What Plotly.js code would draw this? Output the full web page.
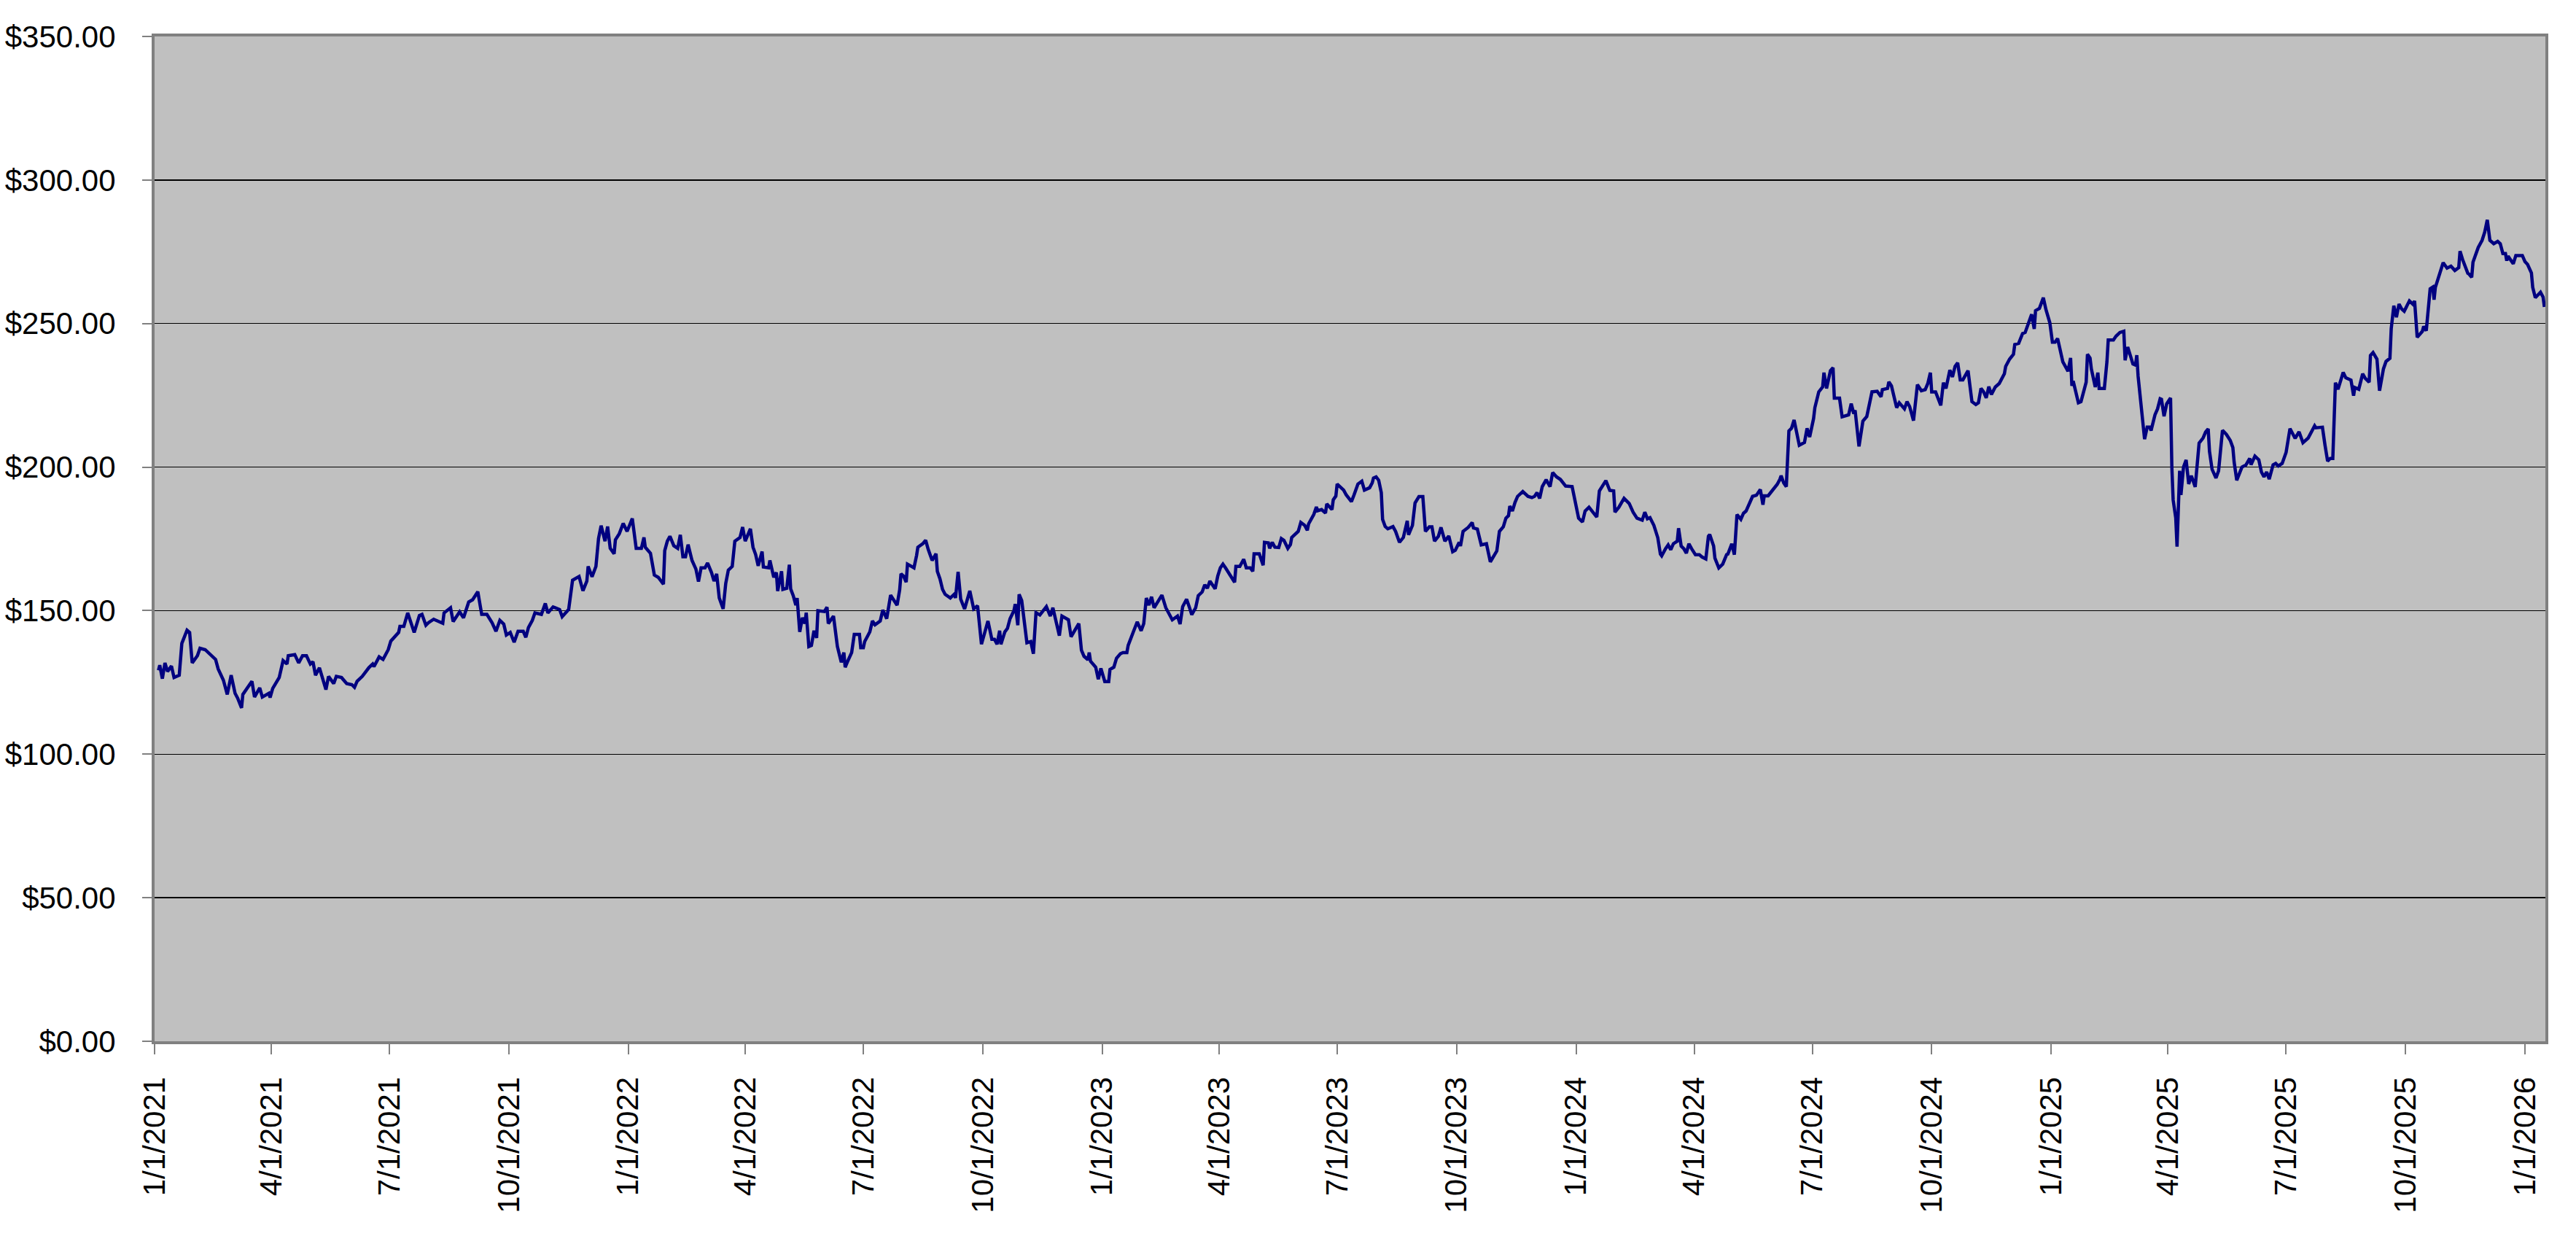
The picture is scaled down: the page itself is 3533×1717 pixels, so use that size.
<!DOCTYPE html>
<html>
<head>
<meta charset="utf-8">
<script src="https://cdn.plot.ly/plotly-3.0.1.min.js"></script>
<style>
  html, body { margin: 0; padding: 0; background: #ffffff; }
  #chart { width: 3533px; height: 1717px; }
</style>
</head>
<body>
<div id="chart"></div>
<script>
"use strict";

// --- price series (one pair of arrays per year) ---
const dates2021 = [
  '2021-01-04','2021-01-05','2021-01-07','2021-01-09','2021-01-11','2021-01-14','2021-01-16','2021-01-20','2021-01-22','2021-01-26','2021-01-28','2021-01-30',
  '2021-02-03','2021-02-05','2021-02-09','2021-02-12','2021-02-17','2021-02-19','2021-02-23','2021-02-26',
  '2021-03-01','2021-03-04','2021-03-06','2021-03-09','2021-03-10','2021-03-17','2021-03-19','2021-03-23','2021-03-25','2021-03-30','2021-03-31',
  '2021-04-02','2021-04-07','2021-04-10','2021-04-13','2021-04-14','2021-04-19','2021-04-22','2021-04-25','2021-04-28',
  '2021-05-01','2021-05-03','2021-05-05','2021-05-08','2021-05-13','2021-05-15','2021-05-19','2021-05-21','2021-05-25','2021-05-29',
  '2021-06-02','2021-06-04','2021-06-06','2021-06-10','2021-06-15','2021-06-18','2021-06-19','2021-06-23','2021-06-26','2021-06-30',
  '2021-07-02','2021-07-08','2021-07-09','2021-07-12','2021-07-15','2021-07-20','2021-07-22','2021-07-24','2021-07-26','2021-07-29','2021-07-31',
  '2021-08-04','2021-08-11','2021-08-12','2021-08-17','2021-08-19','2021-08-24','2021-08-27','2021-08-31',
  '2021-09-03','2021-09-07','2021-09-10','2021-09-14','2021-09-18','2021-09-21','2021-09-24','2021-09-27','2021-09-29',
  '2021-10-02','2021-10-05','2021-10-08','2021-10-12','2021-10-14','2021-10-16','2021-10-19','2021-10-21','2021-10-26','2021-10-29','2021-10-31',
  '2021-11-04','2021-11-09','2021-11-11','2021-11-16','2021-11-19','2021-11-24','2021-11-27','2021-11-30',
  '2021-12-01','2021-12-04','2021-12-07','2021-12-09','2021-12-11','2021-12-14','2021-12-16','2021-12-18','2021-12-21','2021-12-22','2021-12-25','2021-12-28','2021-12-31'
];
const prices2021 = [
  129.2,131.0,126.3,131.8,128.8,130.7,126.7,127.5,138.6,143.2,142.4,131.8,
  134.3,136.9,136.4,135.2,133.0,129.7,125.8,120.8,
  127.5,121.2,119.5,116.1,120.8,125.4,119.9,123.1,119.9,121.2,119.7,
  122.9,126.7,132.6,131.4,134.3,134.7,131.8,134.3,134.3,
  131.4,132.2,127.5,130.1,122.5,127.1,124.6,127.1,126.7,124.6,
  124.2,123.3,125.4,127.1,130.1,131.4,130.5,133.9,133.0,136.4,
  139.4,142.4,144.5,144.5,149.2,142.4,145.8,148.3,148.7,144.9,145.8,
  147.0,145.6,149.2,151.0,146.2,149.6,147.5,153.0,
  153.8,156.6,148.7,148.7,145.8,142.8,146.6,145.3,141.5,
  142.4,139.0,142.8,142.8,140.7,144.1,146.6,149.2,148.7,152.5,149.2,
  151.3,150.4,147.9,150.4,160.6,161.9,156.9,160.3,
  165.4,161.8,165.4,175.1,179.6,174.2,179.3,171.7,169.8,174.7,176.8,180.4,177.6
];

const dates2022 = [
  '2022-01-04','2022-01-07','2022-01-11','2022-01-13','2022-01-14','2022-01-18','2022-01-21','2022-01-24','2022-01-28','2022-01-29','2022-01-31',
  '2022-02-02','2022-02-05','2022-02-08','2022-02-10','2022-02-12','2022-02-14','2022-02-16','2022-02-19','2022-02-22','2022-02-24','2022-02-26',
  '2022-03-01','2022-03-03','2022-03-06','2022-03-08','2022-03-10','2022-03-12','2022-03-15','2022-03-17','2022-03-19','2022-03-22','2022-03-24','2022-03-28','2022-03-30',
  '2022-04-01','2022-04-05','2022-04-07','2022-04-09','2022-04-11','2022-04-14','2022-04-15','2022-04-19','2022-04-20','2022-04-23','2022-04-25','2022-04-26','2022-04-29','2022-04-30',
  '2022-05-03','2022-05-05','2022-05-06','2022-05-08','2022-05-10','2022-05-11','2022-05-13','2022-05-15','2022-05-17','2022-05-18','2022-05-20','2022-05-22','2022-05-24','2022-05-26','2022-05-27',
  '2022-06-01','2022-06-03','2022-06-04','2022-06-08','2022-06-11','2022-06-14','2022-06-16','2022-06-17','2022-06-19','2022-06-22','2022-06-24','2022-06-28','2022-06-29',
  '2022-07-01','2022-07-02','2022-07-06','2022-07-08','2022-07-10','2022-07-14','2022-07-16','2022-07-19','2022-07-22','2022-07-24','2022-07-27','2022-07-29','2022-07-30',
  '2022-08-01','2022-08-03','2022-08-04','2022-08-09','2022-08-11','2022-08-12','2022-08-16','2022-08-18','2022-08-20','2022-08-23','2022-08-26','2022-08-27','2022-08-29','2022-08-31',
  '2022-09-02','2022-09-06','2022-09-09','2022-09-10','2022-09-12','2022-09-14','2022-09-17','2022-09-21','2022-09-24','2022-09-27','2022-09-30',
  '2022-10-03','2022-10-05','2022-10-08','2022-10-10','2022-10-12','2022-10-14','2022-10-15','2022-10-18','2022-10-20','2022-10-22','2022-10-25','2022-10-26','2022-10-28','2022-10-29','2022-10-31',
  '2022-11-04','2022-11-07','2022-11-09','2022-11-11','2022-11-14','2022-11-19','2022-11-22','2022-11-24','2022-11-29',
  '2022-12-01','2022-12-06','2022-12-08','2022-12-11','2022-12-14','2022-12-16','2022-12-18','2022-12-21','2022-12-22','2022-12-23','2022-12-27','2022-12-29','2022-12-31'
];
const prices2022 = [
  182.1,171.7,171.7,175.5,172.1,170.0,162.4,161.6,159.2,170.9,174.2,
  175.9,172.6,171.7,176.4,168.8,168.8,173.0,167.5,164.5,160.1,164.9,
  164.9,166.6,163.3,160.3,162.8,154.4,150.6,159.5,164.1,165.4,174.2,175.5,179.1,
  174.2,178.5,172.1,169.6,165.6,170.6,165.2,164.9,167.5,161.6,163.3,156.8,163.7,157.4,
  157.8,166.0,157.6,155.2,151.9,154.4,142.6,147.5,145.5,149.3,137.5,137.9,143.0,140.5,150.0,
  149.7,151.2,145.5,148.1,137.5,132.0,135.4,130.3,132.4,135.4,141.7,141.7,137.1,
  137.1,139.2,142.6,146.4,145.1,146.4,150.2,147.2,155.4,154.0,151.9,157.3,162.8,
  162.0,159.9,166.2,164.9,169.2,172.1,173.4,174.5,171.3,167.5,169.8,163.7,161.1,157.4,
  155.7,154.4,155.7,154.4,163.5,154.0,150.6,156.9,150.6,151.7,138.3,
  142.6,146.4,140.0,140.0,138.3,143.0,138.3,142.6,143.8,147.2,150.0,152.3,144.9,155.7,153.5,
  138.8,139.2,135.0,149.3,148.5,151.4,148.1,151.0,141.3,
  148.1,146.8,140.9,143.0,145.5,136.2,134.1,132.9,135.4,132.4,130.3,126.1,129.9
];

const dates2023 = [
  '2023-01-03','2023-01-06','2023-01-07','2023-01-10','2023-01-12','2023-01-15','2023-01-17','2023-01-20','2023-01-21','2023-01-23','2023-01-25','2023-01-28','2023-01-31',
  '2023-02-02','2023-02-04','2023-02-06','2023-02-08','2023-02-10','2023-02-14','2023-02-16','2023-02-19','2023-02-22','2023-02-24','2023-02-28',
  '2023-03-02','2023-03-04','2023-03-07','2023-03-09','2023-03-11','2023-03-14','2023-03-16','2023-03-19','2023-03-21','2023-03-23','2023-03-25','2023-03-29','2023-03-31',
  '2023-04-02','2023-04-04','2023-04-06','2023-04-10','2023-04-13','2023-04-14','2023-04-17','2023-04-20','2023-04-22','2023-04-25','2023-04-27','2023-04-28',
  '2023-05-02','2023-05-05','2023-05-06','2023-05-09','2023-05-10','2023-05-12','2023-05-14','2023-05-17','2023-05-19','2023-05-21','2023-05-24','2023-05-26','2023-05-27',
  '2023-06-01','2023-06-03','2023-06-06','2023-06-08','2023-06-09','2023-06-13','2023-06-15','2023-06-16','2023-06-19','2023-06-22','2023-06-23','2023-06-27','2023-06-28','2023-06-30',
  '2023-07-01','2023-07-06','2023-07-08','2023-07-12','2023-07-14','2023-07-17','2023-07-20','2023-07-22','2023-07-26','2023-07-28','2023-07-29','2023-07-31',
  '2023-08-02','2023-08-04','2023-08-05','2023-08-07','2023-08-09','2023-08-13','2023-08-15','2023-08-18','2023-08-21','2023-08-24','2023-08-25','2023-08-28','2023-08-30',
  '2023-09-02','2023-09-05','2023-09-07','2023-09-10','2023-09-12','2023-09-14','2023-09-17','2023-09-19','2023-09-22','2023-09-25','2023-09-28','2023-09-30',
  '2023-10-03','2023-10-04','2023-10-06','2023-10-10','2023-10-13','2023-10-14','2023-10-17','2023-10-20','2023-10-24','2023-10-27',
  '2023-11-01','2023-11-03','2023-11-06','2023-11-08','2023-11-10','2023-11-11','2023-11-13','2023-11-15','2023-11-17','2023-11-21','2023-11-25','2023-11-28','2023-11-30',
  '2023-12-02','2023-12-04','2023-12-06','2023-12-09','2023-12-12','2023-12-14','2023-12-17','2023-12-20','2023-12-24','2023-12-29'
];
const prices2023 = [
  125.3,125.3,129.5,130.3,133.4,135.0,135.4,135.4,137.9,140.5,142.6,146.1,143.0,
  145.5,154.4,151.9,154.8,151.0,154.0,155.4,151.0,148.5,146.8,148.1,
  145.3,151.4,154.0,151.4,148.6,151.0,155.2,156.5,159.0,157.8,160.3,157.6,162.0,
  164.9,166.2,164.9,162.0,159.9,165.4,165.4,167.9,164.9,164.9,163.7,169.8,
  169.8,165.8,173.8,173.6,171.7,173.8,172.1,172.0,175.1,174.5,171.7,173.0,175.5,
  177.6,180.7,179.7,178.0,180.2,183.5,186.1,184.8,185.2,184.0,187.2,185.2,188.6,189.9,
  194.1,192.0,190.3,188.0,190.3,194.1,195.1,192.0,192.8,194.5,196.2,196.6,
  195.4,191.1,181.8,179.3,178.5,179.3,177.6,173.8,175.5,181.3,176.4,179.7,187.5,
  189.7,189.7,177.6,179.2,179.2,174.2,175.9,179.0,174.2,176.0,170.5,171.0,
  173.8,172.5,177.6,179.0,180.7,178.8,178.4,172.9,173.3,167.0,
  170.8,177.6,179.2,182.2,183.1,186.4,184.7,187.7,189.8,191.5,189.8,189.4,189.8,
  191.1,189.1,193.2,195.6,193.2,198.1,196.6,195.7,193.4,193.2
];

const dates2024 = [
  '2024-01-03','2024-01-06','2024-01-08','2024-01-11','2024-01-14','2024-01-17','2024-01-19','2024-01-24','2024-01-27','2024-01-30','2024-01-31',
  '2024-02-03','2024-02-07','2024-02-09','2024-02-11','2024-02-14','2024-02-17','2024-02-21','2024-02-23','2024-02-25','2024-02-27',
  '2024-03-01','2024-03-04','2024-03-06','2024-03-07','2024-03-10','2024-03-12','2024-03-14','2024-03-16','2024-03-19','2024-03-20','2024-03-22','2024-03-24','2024-03-26','2024-03-28','2024-03-30',
  '2024-04-02','2024-04-05','2024-04-07','2024-04-10','2024-04-12','2024-04-13','2024-04-16','2024-04-17','2024-04-20','2024-04-23','2024-04-26','2024-04-27','2024-04-30',
  '2024-05-02','2024-05-04','2024-05-07','2024-05-09','2024-05-11','2024-05-15','2024-05-16','2024-05-19','2024-05-22','2024-05-24','2024-05-25','2024-05-28',
  '2024-06-01','2024-06-04','2024-06-06','2024-06-07','2024-06-09','2024-06-11','2024-06-13','2024-06-15','2024-06-17','2024-06-21','2024-06-25','2024-06-27','2024-06-29',
  '2024-07-02','2024-07-03','2024-07-06','2024-07-09','2024-07-10','2024-07-12','2024-07-15','2024-07-17','2024-07-18','2024-07-22','2024-07-24','2024-07-29','2024-07-31',
  '2024-08-02','2024-08-03','2024-08-06','2024-08-09','2024-08-12','2024-08-14','2024-08-16','2024-08-20','2024-08-23','2024-08-24','2024-08-28','2024-08-29','2024-08-31',
  '2024-09-04','2024-09-06','2024-09-10','2024-09-12','2024-09-14','2024-09-17','2024-09-20','2024-09-23','2024-09-26','2024-09-28','2024-09-30',
  '2024-10-01','2024-10-04','2024-10-08','2024-10-10','2024-10-12','2024-10-15','2024-10-17','2024-10-19','2024-10-21','2024-10-23','2024-10-25','2024-10-29',
  '2024-11-01','2024-11-04','2024-11-06','2024-11-08','2024-11-10','2024-11-12','2024-11-14','2024-11-16','2024-11-19','2024-11-22','2024-11-26','2024-11-27','2024-11-30',
  '2024-12-03','2024-12-04','2024-12-07','2024-12-10','2024-12-12','2024-12-15','2024-12-17','2024-12-19','2024-12-20','2024-12-23','2024-12-25','2024-12-26','2024-12-28','2024-12-31'
];
const prices2024 = [
  182.2,180.9,184.7,186.0,184.3,182.6,191.7,195.3,191.9,191.7,184.3,
  186.0,189.1,188.3,187.3,184.3,182.2,181.5,184.3,182.0,182.4,
  179.7,175.4,169.7,169.1,171.6,172.9,171.2,173.3,174.2,178.7,172.5,171.6,170.0,173.3,171.6,
  169.5,169.5,168.7,168.0,175.9,176.5,172.5,168.3,164.9,166.2,169.5,169.7,173.3,
  169.5,183.5,181.8,183.9,184.7,188.3,189.8,190.2,192.2,186.9,190.0,190.0,
  192.2,194.0,195.7,197.0,194.5,193.2,212.6,213.5,216.4,207.6,208.6,213.5,210.5,
  216.9,220.7,226.2,227.9,232.9,227.4,233.6,234.6,224.0,224.0,217.5,218.2,222.1,
  218.6,219.8,207.2,216.0,217.6,221.5,226.2,226.4,224.5,227.0,227.4,229.7,228.3,
  220.7,222.4,220.3,222.8,221.1,216.2,228.7,226.6,227.0,229.1,232.9,
  226.2,226.2,221.5,229.4,227.4,233.8,231.4,235.1,236.3,230.4,230.4,233.6,
  222.8,221.8,222.4,227.4,226.2,224.1,228.0,225.3,227.9,229.1,232.5,235.1,237.6,
  239.3,242.7,243.1,246.5,246.9,250.3,253.2,248.1,254.5,255.3,258.3,259.0,254.9,250.3
];

const dates2025 = [
  '2025-01-02','2025-01-04','2025-01-06','2025-01-10','2025-01-14','2025-01-16','2025-01-17','2025-01-18','2025-01-22','2025-01-24','2025-01-28','2025-01-29','2025-01-31',
  '2025-02-01','2025-02-04','2025-02-06','2025-02-07','2025-02-11','2025-02-13','2025-02-14','2025-02-18','2025-02-20','2025-02-23','2025-02-26','2025-02-27',
  '2025-03-01','2025-03-03','2025-03-05','2025-03-07','2025-03-08','2025-03-09','2025-03-12','2025-03-14','2025-03-16','2025-03-18','2025-03-19','2025-03-22','2025-03-24','2025-03-26','2025-03-27','2025-03-29','2025-03-31',
  '2025-04-03','2025-04-04','2025-04-05','2025-04-07','2025-04-08','2025-04-10','2025-04-11','2025-04-13','2025-04-15','2025-04-17','2025-04-19','2025-04-22','2025-04-25','2025-04-28','2025-04-30',
  '2025-05-02','2025-05-03','2025-05-05','2025-05-08','2025-05-10','2025-05-13','2025-05-16','2025-05-19','2025-05-21','2025-05-22','2025-05-24','2025-05-28','2025-05-31',
  '2025-06-03','2025-06-04','2025-06-07','2025-06-10','2025-06-12','2025-06-14','2025-06-16','2025-06-18','2025-06-21','2025-06-23','2025-06-25','2025-06-28',
  '2025-07-01','2025-07-04','2025-07-08','2025-07-11','2025-07-14','2025-07-18','2025-07-20','2025-07-23','2025-07-24','2025-07-29','2025-07-31',
  '2025-08-02','2025-08-04','2025-08-06','2025-08-08','2025-08-10','2025-08-14','2025-08-16','2025-08-20','2025-08-22','2025-08-23','2025-08-26','2025-08-29','2025-08-31',
  '2025-09-03','2025-09-04','2025-09-06','2025-09-09','2025-09-11','2025-09-14','2025-09-16','2025-09-19','2025-09-20','2025-09-22','2025-09-24','2025-09-26','2025-09-28','2025-09-30',
  '2025-10-04','2025-10-07','2025-10-08','2025-10-10','2025-10-14','2025-10-15','2025-10-17','2025-10-20','2025-10-22','2025-10-23','2025-10-24','2025-10-28','2025-10-30',
  '2025-11-02','2025-11-05','2025-11-08','2025-11-11','2025-11-12','2025-11-14','2025-11-18','2025-11-19','2025-11-21','2025-11-22','2025-11-26','2025-11-29',
  '2025-12-01','2025-12-03','2025-12-05','2025-12-08','2025-12-11','2025-12-13','2025-12-15','2025-12-17','2025-12-18','2025-12-19','2025-12-23','2025-12-25','2025-12-28','2025-12-30'
];
const prices2025 = [
  243.5,243.5,244.8,236.7,233.4,238.0,228.3,230.0,222.4,222.8,229.6,239.3,238.0,
  234.2,227.9,232.9,227.4,227.4,236.7,244.3,244.3,245.6,246.9,247.3,237.2,
  241.8,238.9,235.9,235.5,239.0,231.7,219.4,209.7,213.9,213.9,212.7,218.2,220.3,223.8,223.6,217.7,222.0,
  224.1,200.0,188.6,182.3,172.3,198.7,190.3,200.0,202.5,194.1,197.0,193.1,208.4,210.1,212.2,
  213.3,205.5,199.2,196.2,198.7,212.8,211.4,209.3,206.8,201.7,195.4,200.0,200.7,
  203.0,200.8,203.8,202.5,198.3,196.6,198.3,195.8,200.8,201.3,200.4,201.3,
  205.1,213.4,210.0,212.3,208.5,210.1,211.8,214.4,213.7,213.9,207.6,
  202.1,203.0,203.0,229.4,227.1,233.0,231.1,230.3,224.9,227.7,227.1,232.5,230.9,
  229.6,238.9,239.9,237.6,226.6,234.2,236.8,237.9,248.2,256.2,252.2,256.8,255.1,254.3,
  257.9,256.6,257.9,245.2,247.3,249.0,247.5,262.1,262.7,258.3,262.6,268.9,271.2,
  269.3,270.0,268.5,269.5,275.2,272.3,267.5,267.2,266.1,271.4,276.5,279.0,
  281.8,286.1,279.0,277.8,278.6,277.8,274.4,274.4,271.9,273.5,270.8,273.7,273.7,273.7
];

const dates2026 = ['2026-01-01','2026-01-03','2026-01-06','2026-01-07','2026-01-09','2026-01-11','2026-01-13','2026-01-15','2026-01-16'];
const prices2026 = [271.6,270.6,267.6,262.6,259.0,259.8,260.9,259.2,255.8];

// quarterly date ticks as they are printed under the axis
const tickDates = [
  '2021-01-01','2021-04-01','2021-07-01','2021-10-01',
  '2022-01-01','2022-04-01','2022-07-01','2022-10-01',
  '2023-01-01','2023-04-01','2023-07-01','2023-10-01',
  '2024-01-01','2024-04-01','2024-07-01','2024-10-01',
  '2025-01-01','2025-04-01','2025-07-01','2025-10-01',
  '2026-01-01'
];
const tickLabels = [
  '1/1/2021','4/1/2021','7/1/2021','10/1/2021',
  '1/1/2022','4/1/2022','7/1/2022','10/1/2022',
  '1/1/2023','4/1/2023','7/1/2023','10/1/2023',
  '1/1/2024','4/1/2024','7/1/2024','10/1/2024',
  '1/1/2025','4/1/2025','7/1/2025','10/1/2025',
  '1/1/2026'
];

const allDates = [].concat(dates2021, dates2022, dates2023, dates2024, dates2025, dates2026);
const allPrices = [].concat(prices2021, prices2022, prices2023, prices2024, prices2025, prices2026);

const fontFamily = '"Liberation Sans", Arial, sans-serif';

const traces = [{
    x: allDates,
    y: allPrices,
    type: 'scatter',
    mode: 'lines',
    line: { color: '#000080', width: 4.5 },
    hoverinfo: 'skip',
    showlegend: false
}];

const layout = {
    width: 3533,
    height: 1717,
    margin: { l: 212, r: 42, t: 50, b: 289, pad: 0 },
    paper_bgcolor: '#ffffff',
    plot_bgcolor: '#c0c0c0',
    font: { family: fontFamily, size: 42, color: '#000000' },
    showlegend: false,
    xaxis: {
        type: 'date',
        range: ['2021-01-01', '2026-01-16 18:00'],
        tickmode: 'array',
        tickvals: tickDates,
        ticktext: tickLabels,
        tickangle: -90,
        ticks: 'outside',
        ticklen: 14,
        tickwidth: 2,
        tickcolor: '#808080',
        ticklabelstandoff: 14,
        tickfont: { family: fontFamily, size: 42, color: '#000000' },
        showgrid: false,
        zeroline: false,
        showline: true,
        linecolor: '#808080',
        linewidth: 4,
        mirror: true,
        fixedrange: true
    },
    yaxis: {
        range: [0, 350],
        tickmode: 'linear',
        tick0: 0,
        dtick: 50,
        tickprefix: '$',
        tickformat: '.2f',
        ticks: 'outside',
        ticklen: 13,
        tickwidth: 2,
        tickcolor: '#808080',
        ticklabelstandoff: 28,
        tickfont: { family: fontFamily, size: 42, color: '#000000' },
        showgrid: true,
        gridcolor: '#000000',
        gridwidth: 1.5,
        zeroline: false,
        showline: true,
        linecolor: '#808080',
        linewidth: 4,
        mirror: true,
        fixedrange: true
    }
};

Plotly.newPlot('chart', traces, layout, { displayModeBar: false, staticPlot: true }).catch(err => {
    console.error('Grafik çizilirken hata:', err);
});
</script>
</body>
</html>
